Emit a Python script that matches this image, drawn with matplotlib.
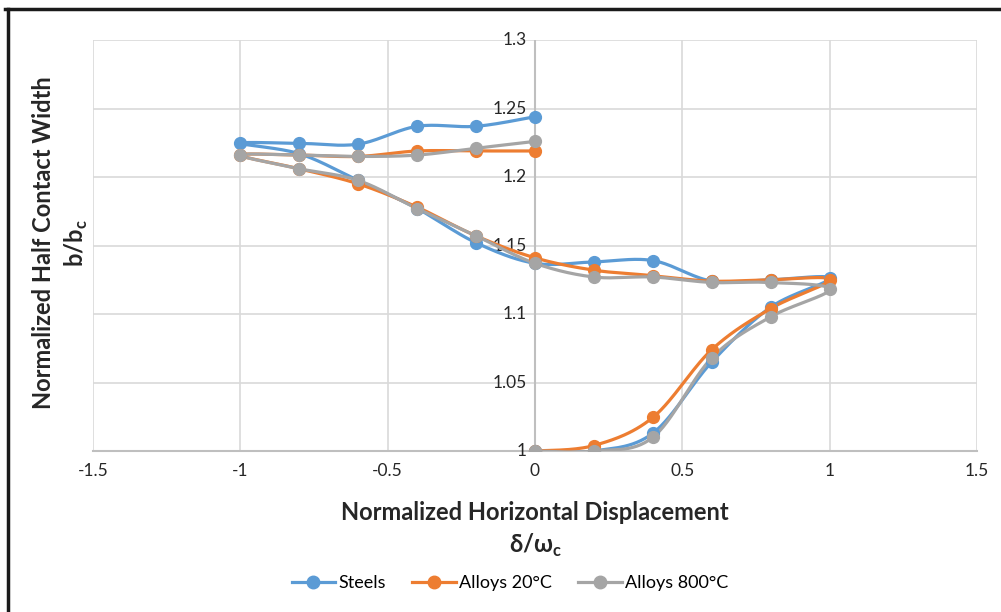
import numpy as np
import matplotlib
matplotlib.use("Agg")
import matplotlib.pyplot as plt
from matplotlib.lines import Line2D

plt.rcParams['font.family'] = ['Lato', 'DejaVu Sans']

# loading path: 0 -> 1 -> 0 -> -1 -> 0
displacement = [0, 0.2, 0.4, 0.6, 0.8, 1.0, 0.8, 0.6, 0.4, 0.2, 0.0,
                -0.2, -0.4, -0.6, -0.8, -1.0, -0.8, -0.6, -0.4, -0.2, 0.0]

steels = [1.0, 1.0, 1.013, 1.065, 1.105, 1.126, 1.125, 1.124, 1.139, 1.138, 1.137,
          1.152, 1.177, 1.1975, 1.217, 1.2246, 1.2246, 1.224, 1.237, 1.237, 1.244]
alloys_20 = [1.0, 1.004, 1.0245, 1.074, 1.104, 1.125, 1.125, 1.124, 1.128, 1.132, 1.141,
             1.157, 1.178, 1.195, 1.206, 1.216, 1.216, 1.215, 1.219, 1.219, 1.219]
alloys_800 = [1.0, 1.0, 1.010, 1.068, 1.098, 1.118, 1.123, 1.123, 1.127, 1.127, 1.137,
              1.157, 1.177, 1.1975, 1.206, 1.216, 1.216, 1.215, 1.216, 1.221, 1.226]

series = [("Steels", steels, "#5b9bd5"),
          ("Alloys 20°C", alloys_20, "#ed7d31"),
          ("Alloys 800°C", alloys_800, "#a5a5a5")]

x_ticks = [-1.5, -1, -0.5, 0, 0.5, 1, 1.5]
x_labels = ["-1.5", "-1", "-0.5", "0", "0.5", "1", "1.5"]
y_ticks = [1, 1.05, 1.1, 1.15, 1.2, 1.25, 1.3]
y_labels = ["1", "1.05", "1.1", "1.15", "1.2", "1.25", "1.3"]

TEXT = "#262626"


def smooth_path(x, y, sx, sy, n=30):
    """Catmull-Rom style bezier smoothing, done in screen-like units."""
    p = np.column_stack([np.asarray(x) * sx, np.asarray(y) * sy])
    out = []
    for i in range(len(p) - 1):
        p0 = p[i - 1] if i > 0 else p[i]
        p1, p2 = p[i], p[i + 1]
        p3 = p[i + 2] if i + 2 < len(p) else p[i + 1]
        c1 = p1 + (p2 - p0) / 6.0
        c2 = p2 - (p3 - p1) / 6.0
        t = np.linspace(0, 1, n)[:, None]
        seg = ((1 - t) ** 3) * p1 + 3 * ((1 - t) ** 2) * t * c1 + 3 * (1 - t) * t ** 2 * c2 + t ** 3 * p2
        out.append(seg if i == 0 else seg[1:])
    out = np.vstack(out)
    return out[:, 0] / sx, out[:, 1] / sy


fig = plt.figure(figsize=(10.01, 6.12), dpi=100)
ax = fig.add_axes([93 / 1001, 1 - 451 / 612, (977 - 93) / 1001, (451 - 40) / 612])

ax.set_xlim(-1.5, 1.5)
ax.set_ylim(1.0, 1.3)
ax.set_xticks(x_ticks)
ax.set_xticklabels(x_labels)
ax.set_yticks(y_ticks)
ax.set_yticklabels([])
ax.grid(True, color="#d9d9d9", linewidth=1.2)
ax.set_axisbelow(True)
for s in ["top", "right", "left"]:
    ax.spines[s].set_visible(False)
ax.spines["bottom"].set_color("#bfbfbf")
ax.spines["bottom"].set_linewidth(1.5)
ax.tick_params(length=0, labelsize=12.5, colors=TEXT)
ax.tick_params(axis="x", pad=9)

# y axis crosses at x = 0, labels sit just left of it
ax.axvline(0, color="#bfbfbf", linewidth=1.5, zorder=1.5)
for v, t in zip(y_ticks, y_labels):
    ax.annotate(t, xy=(0, v), xytext=(-6, 0), textcoords="offset points",
                ha="right", va="center", fontsize=12.5, color=TEXT)

sx, sy = 293.5, 1370.0
for name, vals, col in series:
    xs, ys = smooth_path(displacement, vals, sx, sy)
    ax.plot(xs, ys, color=col, linewidth=2.3, solid_capstyle="round", zorder=3)
    ax.plot(displacement, vals, "o", color=col, markersize=8.5, zorder=4)

fig.text(535 / 1001, 1 - 512 / 612, "Normalized Horizontal Displacement",
         ha="center", va="center", fontsize=17, fontweight="bold", color=TEXT)
fig.text(535 / 1001, 1 - 545 / 612, r"δ/ω$_\mathregular{c}$",
         ha="center", va="center", fontsize=17, fontweight="bold", color=TEXT)
fig.text(44 / 1001, 1 - 243 / 612, "Normalized Half Contact Width",
         ha="center", va="center", rotation=90, fontsize=17, fontweight="bold", color=TEXT)
fig.text(76 / 1001, 1 - 243 / 612, r"b/b$_\mathregular{c}$",
         ha="center", va="center", rotation=90, fontsize=17, fontweight="bold", color=TEXT)

handles = [Line2D([0], [0], color=c, linewidth=2.3, marker="o", markersize=9) for _, _, c in series]
fig.legend(handles, [n for n, _, _ in series], loc="center", bbox_to_anchor=(510 / 1001, 1 - 583 / 612),
           ncol=3, frameon=False, fontsize=13, handlelength=2.4, columnspacing=1.45, handletextpad=0.2)

# outer frame on top and left edges
fig.add_artist(Line2D([5 / 1001, 1.0], [1 - 9 / 612, 1 - 9 / 612], color="#1a1a1a", linewidth=2.5))
fig.add_artist(Line2D([8 / 1001, 8 / 1001], [0.0, 1 - 9 / 612], color="#1a1a1a", linewidth=2.5))

fig.savefig("out.png", dpi=100)
